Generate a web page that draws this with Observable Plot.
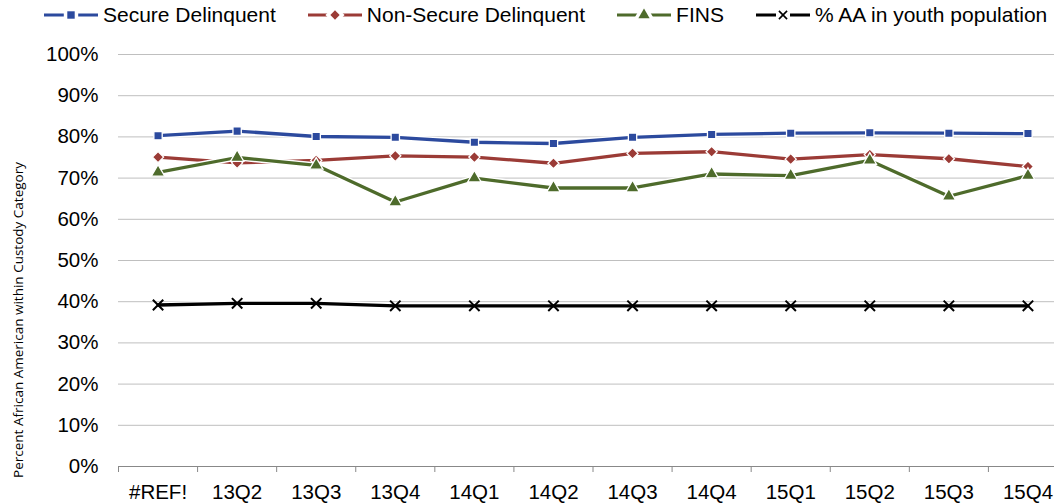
<!DOCTYPE html>
<html><head><meta charset="utf-8">
<script src="https://cdn.jsdelivr.net/npm/d3@7"></script>
<script src="https://cdn.jsdelivr.net/npm/@observablehq/plot@0.6"></script>
<style>
body{margin:0;background:#fff;font-family:"Liberation Sans",Arial,sans-serif;}
#legend{height:30px;display:flex;align-items:center;padding-left:44px;font-size:21px;color:#000;white-space:nowrap;}
.item{display:flex;align-items:center;margin-right:32px;}
.item svg{margin-right:5px;}
</style></head>
<body><div id="legend"></div><div id="chart"></div>
<script>
const quarters = ["#REF!","13Q2","13Q3","13Q4","14Q1","14Q2","14Q3","14Q4","15Q1","15Q2","15Q3","15Q4"];
const secure    = [0.803,0.814,0.801,0.799,0.787,0.784,0.799,0.806,0.809,0.810,0.809,0.808];
const nonSecure = [0.751,0.737,0.743,0.754,0.751,0.736,0.760,0.764,0.746,0.757,0.747,0.728];
const fins      = [0.714,0.750,0.731,0.642,0.700,0.676,0.676,0.710,0.706,0.743,0.656,0.706];
const aaYouth   = [0.392,0.396,0.396,0.390,0.390,0.390,0.390,0.390,0.390,0.390,0.390,0.390];
const yTicks = [0,0.1,0.2,0.3,0.4,0.5,0.6,0.7,0.8,0.9,1.0];
const yLabel = "Percent African American within Custody Category";

const series = [
  {name:"Secure Delinquent", values:secure, color:"#2C4A9E", symbol:"square", r:4.7},
  {name:"Non-Secure Delinquent", values:nonSecure, color:"#9B3B36", symbol:"diamond2", r:5},
  {name:"FINS", values:fins, color:"#4E6B2B", symbol:"triangle", r:5},
  {name:"% AA in youth population", values:aaYouth, color:"#000000", symbol:"times", r:4.8}
];

const rowsOf = s => s.values.map((v,i)=>({series:s.name, i, q:quarters[i], v}));

const seriesMarks = series.flatMap(s => {
  const d = rowsOf(s);
  const m = [
    Plot.line(d,{x:"i", y:"v", stroke:"white", strokeWidth:6}),
    Plot.line(d,{x:"i", y:"v", stroke:s.color, strokeWidth:3.3})
  ];
  if (s.symbol === "times") {
    m.push(Plot.dot(d,{x:"i", y:"v", symbol:"times", r:s.r, stroke:s.color, strokeWidth:2}));
  } else {
    m.push(Plot.dot(d,{x:"i", y:"v", symbol:s.symbol, r:s.r, fill:s.color, stroke:"white", strokeWidth:1.3}));
  }
  return m;
});

const chart = Plot.plot({
  width:1054, height:474,
  marginLeft:118, marginRight:-13, marginTop:24, marginBottom:38,
  style:{fontFamily:"'Liberation Sans', Arial, sans-serif", color:"#000", background:"#fff"},
  x:{type:"linear", domain:[-0.5, 11.5]},
  y:{domain:[0,1]},
  marks:[
    Plot.gridY(yTicks,{stroke:"#bfbfbf", strokeOpacity:1}),
    Plot.axisY(yTicks,{tickSize:0, tickPadding:20, tickFormat:d3.format(".0%"), fontSize:20.5, label:null}),
    Plot.axisX(d3.range(-0.5,12,1),{tickSize:6, tickFormat:()=>"", label:null, stroke:"#888", strokeOpacity:1}),
    Plot.axisX(d3.range(0,12),{tickSize:0, tickPadding:18, tickFormat:i=>quarters[i], fontSize:20.5, label:null}),
    Plot.ruleY([0],{stroke:"#888"}),
    ...seriesMarks
  ]
});
document.getElementById("chart").appendChild(chart);

d3.select(chart).append("text")
  .attr("transform","translate(23,290) rotate(-90)")
  .attr("text-anchor","middle")
  .attr("font-family","'Open Sans', sans-serif")
  .attr("font-size",13.5)
  .attr("fill","#000")
  .text(yLabel);

// legend
const legend = d3.select("#legend");
series.forEach(s => {
  const it = legend.append("div").attr("class","item");
  const svg = it.append("svg").attr("width",54).attr("height",16);
  svg.append("line").attr("x1",0).attr("x2",54).attr("y1",8).attr("y2",8)
    .attr("stroke",s.color).attr("stroke-width",3);
  const sym = {square:d3.symbolSquare, diamond2:d3.symbolDiamond2, triangle:d3.symbolTriangle, times:d3.symbolTimes}[s.symbol];
  if (s.symbol === "times") {
    svg.append("rect").attr("x",20).attr("y",1).attr("width",14).attr("height",14).attr("fill","white");
    svg.append("path").attr("transform","translate(27,8)").attr("d",d3.symbol(sym, 45)())
      .attr("fill","none").attr("stroke",s.color).attr("stroke-width",1.6);
  } else {
    svg.append("path").attr("transform","translate(27,8)")
      .attr("d",d3.symbol(sym, s.symbol==="square"?55:55)()).attr("fill",s.color)
      .attr("stroke","white").attr("stroke-width",7).attr("paint-order","stroke");
  }
  it.append("span").text(s.name);
});
</script>
</body></html>
